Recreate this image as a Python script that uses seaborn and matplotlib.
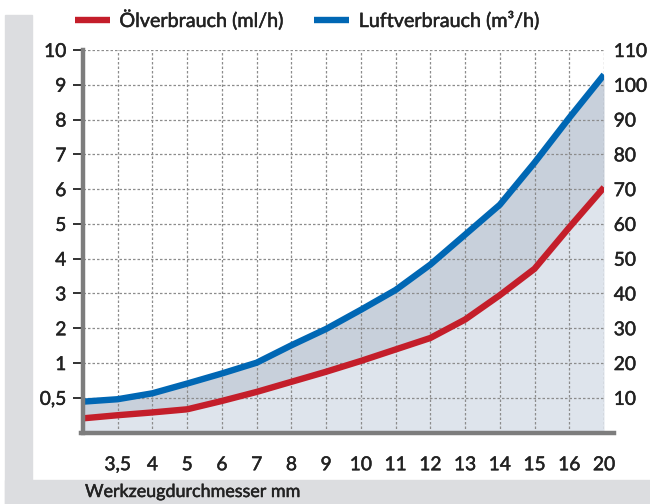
import numpy as np
import pandas as pd
import matplotlib
matplotlib.use("Agg")
import matplotlib.pyplot as plt
import matplotlib.patheffects as pe
from matplotlib.patches import Rectangle
from matplotlib.lines import Line2D
import seaborn as sns

# Tool diameters (mm); the first slot is the unlabeled lead-in at the axis
diameters = ["", "3,5", "4", "5", "6", "7", "8", "9", "10", "11", "12", "13", "14", "15", "16", "20"]
# Air consumption, m³/h (right scale)
air_m3h = [8.9, 9.6, 11.3, 14.1, 17.0, 20.1, 25.1, 29.8, 35.3, 41.0, 48.3, 56.9, 65.5, 77.6, 90.5, 102.9]
# Oil consumption, expressed on the shared grid (left scale labels)
oil_grid = [4.1, 5.0, 5.8, 6.7, 9.1, 11.7, 14.6, 17.5, 20.6, 23.9, 27.2, 32.5, 39.5, 47.1, 59.0, 70.5]

oil_labels = ["0,5", "1", "2", "3", "4", "5", "6", "7", "8", "9", "10"]
air_labels = ["10", "20", "30", "40", "50", "60", "70", "80", "90", "100", "110"]

legend_oil = "Ölverbrauch (ml/h)"
legend_air = "Luftverbrauch (m³/h)"
x_title = "Werkzeugdurchmesser mm"

RED = "#c41e2a"
BLUE = "#0067b4"
FILL_LOW = "#dee4ec"
FILL_MID = "#c8d0db"
GRID = "#8c8c8c"
SPINE = "#7d7d7d"
TEXT = "#222222"
FRAME = "#dcdde0"

sns.set_style("white")
plt.rcParams["font.family"] = ["Lato", "DejaVu Sans"]

# a thin outline in the text colour gives the labels a medium weight
heavier = [pe.withStroke(linewidth=0.35, foreground=TEXT)]

W, H = 650, 504
fig = plt.figure(figsize=(W / 100, H / 100), dpi=100)
fig.patch.set_facecolor("white")

# grey frame strips on the left and bottom
fig.patches.append(Rectangle((5 / W, 0), 1 - 5 / W, 24 / H, transform=fig.transFigure,
                             color=FRAME, zorder=0))
fig.patches.append(Rectangle((5 / W, 0), 27 / W, 1 - 15 / H, transform=fig.transFigure,
                             color=FRAME, zorder=0))

left, right, top, bottom = 83, 604, 50, 432.6
ax = fig.add_axes([left / W, 1 - bottom / H, (right - left) / W, (bottom - top) / H])
ax.set_facecolor("white")

pos = np.arange(len(diameters))
df = pd.DataFrame({"pos": pos, "air": air_m3h, "oil": oil_grid})
levels = [int(v) for v in air_labels]

ax.fill_between(df["pos"], 0, df["oil"], color=FILL_LOW, lw=0, zorder=1)
ax.fill_between(df["pos"], df["oil"], df["air"], color=FILL_MID, lw=0, zorder=1)

for v in levels:
    ax.axhline(v, color=GRID, lw=0.9, ls=(0, (2, 1.6)), zorder=2)
ax.vlines(pos[1:], 0, 110, color=GRID, lw=0.9, ls=(0, (2, 1.6)), zorder=2)

sns.lineplot(data=df, x="pos", y="oil", color=RED, lw=4.6, ax=ax, zorder=4,
             solid_capstyle="butt")
sns.lineplot(data=df, x="pos", y="air", color=BLUE, lw=4.6, ax=ax, zorder=4,
             solid_capstyle="butt")

ax.set_xlim(0, 15)
ax.set_ylim(0, 110)
ax.set_xlabel("")
ax.set_ylabel("")
ax.set_xticks(pos[1:])
ax.set_xticklabels(diameters[1:])
ax.set_yticks(levels)
ax.set_yticklabels(oil_labels)
ax.tick_params(axis="both", direction="out", length=7, width=1.3, color=TEXT,
               labelcolor=TEXT, labelsize=13.8)
ax.tick_params(axis="x", pad=10)
ax.tick_params(axis="y", pad=5)

for side in ("top", "right"):
    ax.spines[side].set_visible(False)
for side in ("left", "bottom"):
    ax.spines[side].set_color(SPINE)
    ax.spines[side].set_linewidth(3.2)
    ax.spines[side].set_zorder(5)
ax.spines["bottom"].set_bounds(-0.06, 15.3)

ax2 = ax.twinx()
ax2.set_ylim(0, 110)
ax2.set_yticks(levels)
ax2.set_yticklabels(air_labels)
ax2.tick_params(axis="y", length=0, pad=7, labelsize=13.8, labelcolor=TEXT)
for s in ax2.spines.values():
    s.set_visible(False)

for lab in ax.get_xticklabels() + ax.get_yticklabels() + ax2.get_yticklabels():
    lab.set_path_effects(heavier)

handles = [Line2D([], [], color=RED, lw=4.6, solid_capstyle="butt"),
           Line2D([], [], color=BLUE, lw=4.6, solid_capstyle="butt")]
leg = fig.legend(handles, [legend_oil, legend_air], ncol=2, loc="center left",
                 bbox_to_anchor=(75 / W, 1 - 20 / H), frameon=False,
                 handlelength=1.75, handletextpad=0.5, columnspacing=1.55,
                 borderpad=0, borderaxespad=0, labelcolor=TEXT,
                 prop={"size": 14.2})
for t in leg.get_texts():
    t.set_path_effects(heavier)

fig.text(85 / W, 1 - 492 / H, x_title, ha="left", va="center", fontsize=12.9,
         color=TEXT, path_effects=heavier)

fig.savefig("out.png", dpi=100)
